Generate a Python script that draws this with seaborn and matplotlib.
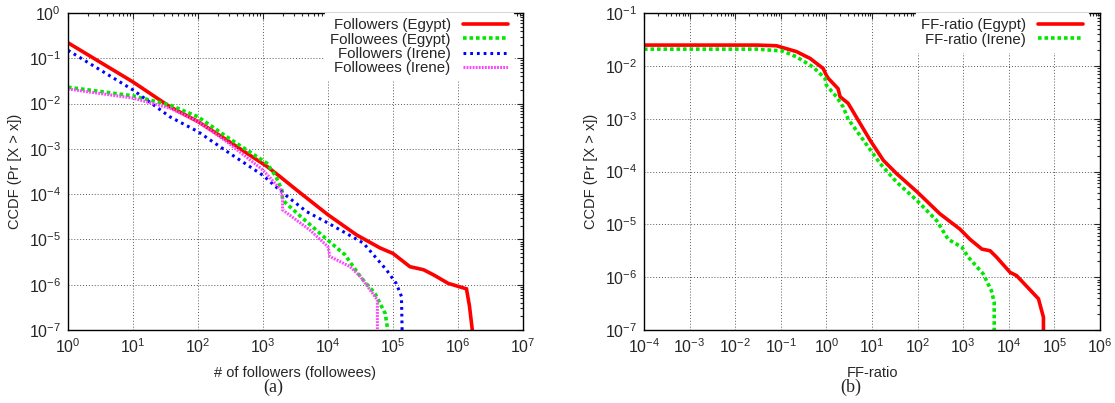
import numpy as np
import pandas as pd
import matplotlib
matplotlib.use("Agg")
import matplotlib.pyplot as plt
import matplotlib.ticker as mticker
import seaborn as sns

# ---------------- data ----------------
# Panel (a): CCDF of number of followers / followees
fe_x = [1, 10, 37, 100, 275, 1150, 1820, 3300, 10000, 27500, 63000, 100000,
        182000, 295000, 417000, 708000, 1350000, 1500000, 1660000]          # Followers (Egypt)
fe_y = [0.22, 0.030, 0.0085, 0.0040, 0.00158, 0.00041, 0.000245, 0.000123,
        3.5e-5, 1.26e-5, 6.5e-6, 4.9e-6, 2.5e-6, 2.14e-6, 1.66e-6, 1.07e-6,
        8.1e-7, 3.4e-7, 1.0e-7]

ge_x = [1, 10, 37, 100, 275, 1150, 1580, 1950, 2000, 3550, 9100, 18200, 23400,
        33000, 52500, 76000, 83000]                                          # Followees (Egypt)
ge_y = [0.023, 0.0148, 0.0093, 0.0051, 0.00186, 0.00048, 0.000245, 0.000123,
        7.4e-5, 3.5e-5, 1.07e-5, 4.6e-6, 2.75e-6, 1.38e-6, 6.5e-7, 2.3e-7, 1.0e-7]

fi_x = [1, 10, 37, 100, 310, 1000, 2040, 4700, 10000, 35000, 79000, 112000,
        135000, 138000]                                                      # Followers (Irene)
fi_y = [0.15, 0.020, 0.0051, 0.0024, 0.00079, 0.00026, 0.000105, 4.1e-5,
        2.3e-5, 8.3e-6, 2.14e-6, 1.07e-6, 5.5e-7, 1.0e-7]

mi_x = [1, 10, 37, 100, 275, 1000, 1900, 2000, 2000, 3240, 5250, 10000, 10700,
        21900, 31600, 57500, 57500]                                          # Followees (Irene)
mi_y = [0.021, 0.0132, 0.0079, 0.0040, 0.00145, 0.00034, 0.000123, 8.1e-5,
        4.5e-5, 2.7e-5, 1.62e-5, 6.9e-6, 4.2e-6, 2.5e-6, 1.51e-6, 4.6e-7, 1.0e-7]

# Panel (b): CCDF of FF-ratio
re_x = [1e-4, 0.03, 0.08, 0.22, 0.44, 0.85, 1.0, 1.1, 1.8, 2.0, 3.0, 5.0, 9.1,
        17.8, 34.7, 98, 309, 850, 1410, 2570, 3890, 5370, 10700, 14800, 44700,
        57500, 57500]                                                        # FF-ratio (Egypt)
re_y = [0.0247, 0.0247, 0.0240, 0.0186, 0.0138, 0.0089, 0.0066, 0.0058, 0.0037,
        0.0026, 0.00195, 0.00093, 0.00039, 0.000162, 9.1e-5, 4.1e-5, 1.58e-5,
        8.1e-6, 5.2e-6, 3.4e-6, 3.16e-6, 2.4e-6, 1.23e-6, 1.07e-6, 3.9e-7,
        1.74e-7, 1.0e-7]

ri_x = [1e-4, 0.03, 0.11, 0.22, 0.51, 0.93, 1.0, 1.66, 2.34, 3.0, 6.5, 15.1,
        34.7, 98, 263, 468, 933, 1290, 2750, 4170, 4790, 4790]               # FF-ratio (Irene)
ri_y = [0.0207, 0.0207, 0.0191, 0.0148, 0.0095, 0.0058, 0.0043, 0.0026, 0.00166,
        0.00098, 0.00039, 0.000141, 6.3e-5, 2.8e-5, 1.17e-5, 5.2e-6, 3.7e-6,
        2.4e-6, 1.15e-6, 5.5e-7, 3.3e-7, 1.0e-7]

labels_a = ["Followers (Egypt)", "Followees (Egypt)", "Followers (Irene)", "Followees (Irene)"]
labels_b = ["FF-ratio (Egypt)", "FF-ratio (Irene)"]

# ---------------- style ----------------
sns.set_style("white")
plt.rcParams.update({
    "font.family": ["Liberation Sans", "DejaVu Sans"],
    "mathtext.fontset": "custom",
    "mathtext.rm": "Liberation Sans",
    "mathtext.it": "Liberation Sans",
    "mathtext.default": "regular",
    "font.size": 10,
    "axes.edgecolor": "black",
    "axes.linewidth": 1.0,
})

fig = plt.figure(figsize=(11.15, 4.03), dpi=100)
ax1 = fig.add_axes([68 / 1115, 73 / 403, 455 / 1115, 317 / 403])
ax2 = fig.add_axes([644 / 1115, 73 / 403, 456 / 1115, 317 / 403])

RED, GREEN, BLUE, MAG = "#ff0000", "#00e800", "#0000ff", "#ff44ff"

def draw(ax, xs, ys, label, color, lw, dashes):
    df = pd.DataFrame({"x": xs, "y": ys})
    sns.lineplot(data=df, x="x", y="y", ax=ax, color=color, linewidth=lw,
                 label=label, sort=False, estimator=None)
    ln = ax.lines[-1]
    if dashes is not None:
        ln.set_dashes(dashes)
    ln.set_solid_joinstyle("miter")

for ax in (ax1, ax2):
    ax.set_xscale("log")
    ax.set_yscale("log")

draw(ax1, fe_x, fe_y, labels_a[0], RED, 2.6, None)
draw(ax1, ge_x, ge_y, labels_a[1], GREEN, 2.6, (1.0, 0.8))
draw(ax1, fi_x, fi_y, labels_a[2], BLUE, 2.2, (0.9, 1.3))
draw(ax1, mi_x, mi_y, labels_a[3], MAG, 2.2, (0.6, 0.4))

draw(ax2, re_x, re_y, labels_b[0], RED, 2.6, None)
draw(ax2, ri_x, ri_y, labels_b[1], GREEN, 2.6, (1.0, 0.8))

ax1.set_xlim(1, 1e7)
ax1.set_ylim(1e-7, 1)
ax2.set_xlim(1e-4, 1e6)
ax2.set_ylim(1e-7, 1e-1)

for ax in (ax1, ax2):
    for axis in (ax.xaxis, ax.yaxis):
        axis.set_major_locator(mticker.LogLocator(base=10, numticks=30))
        axis.set_minor_locator(mticker.LogLocator(base=10, subs=np.arange(2, 10), numticks=30))
        axis.set_minor_formatter(mticker.NullFormatter())
    ax.tick_params(which="both", direction="in", top=True, right=True,
                   labelsize=11.5, width=0.8)
    ax.tick_params(which="major", length=4, pad=5)
    ax.tick_params(which="minor", length=2)
    ax.grid(True, which="major", color="0.35", linestyle=(0, (1, 2)), linewidth=0.7)
    ax.set_axisbelow(True)
    for s in ax.spines.values():
        s.set_visible(True)
        s.set_color("black")
    ax.set_ylabel("CCDF (Pr [X > x])", fontsize=10.5)
    ax.yaxis.set_label_coords(-0.101, 0.5)
    ax.xaxis.set_label_coords(0.5, -0.115)

ax1.set_xlabel("# of followers (followees)", fontsize=10.5)
ax2.set_xlabel("FF-ratio", fontsize=10.5)

leg_kw = dict(loc="upper right", markerfirst=False, frameon=True, fancybox=False,
              edgecolor="white", facecolor="white", framealpha=1.0,
              fontsize=10.8, handlelength=3.0, handletextpad=0.8,
              labelspacing=0.02, borderpad=0.35, borderaxespad=0.0)
l1 = ax1.legend(bbox_to_anchor=(0.978, 1.0), **leg_kw)
l2 = ax2.legend(bbox_to_anchor=(0.974, 1.0), **leg_kw)
for lg in (l1, l2):
    for t in lg.get_texts():
        t.set_ha("right")
    lg.set_zorder(5)

fig.text(273 / 1115, 16 / 403, "(a)", ha="center", va="center",
         family=["Liberation Serif", "DejaVu Serif"], fontsize=13)
fig.text(851 / 1115, 16 / 403, "(b)", ha="center", va="center",
         family=["Liberation Serif", "DejaVu Serif"], fontsize=13)

fig.savefig("out.png", dpi=100)
